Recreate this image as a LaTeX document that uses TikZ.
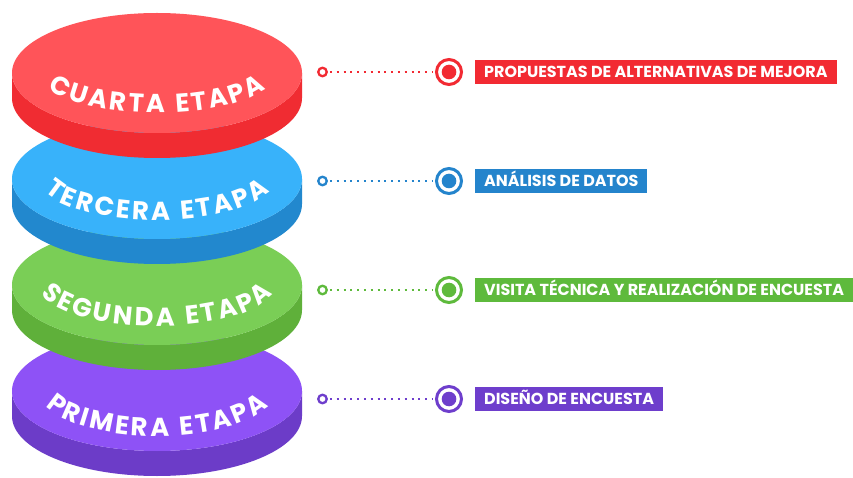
\documentclass[tikz,border=0pt]{standalone}
\usepackage{fontspec}
\setmainfont{Poppins}
\usetikzlibrary{decorations.text}
\definecolor{rface}{RGB}{255,84,89}
\definecolor{rside}{RGB}{240,44,50}
\definecolor{rlab}{RGB}{242,42,50}
\definecolor{bface}{RGB}{56,178,250}
\definecolor{bside}{RGB}{34,136,206}
\definecolor{blab}{RGB}{36,132,204}
\definecolor{gface}{RGB}{122,206,86}
\definecolor{gside}{RGB}{95,176,58}
\definecolor{glab}{RGB}{94,186,60}
\definecolor{pface}{RGB}{142,82,246}
\definecolor{pside}{RGB}{108,60,200}
\definecolor{plab}{RGB}{110,62,204}
\newcommand{\disktxt}{\fontsize{26}{26}\selectfont\bfseries\fontdimen2\font=6bp\relax}
\newcommand{\mydisk}[5]{% cy, face, side, text, textdrop
  \fill[#3] (12,-#1) -- (12,-#1-25) arc[start angle=180,end angle=360,x radius=145,y radius=60]
     -- (302,-#1) arc[start angle=0,end angle=-180,x radius=145,y radius=60] -- cycle;
  \fill[#2] (157,-#1) ellipse[x radius=145,y radius=60];
  \path[font=\disktxt,decorate,decoration={text effects along path,text={#4},text align=center,
        text effects/.cd,text along path,characters={text=white,font=\disktxt,inner sep=0pt},
        character widths={font=\disktxt,inner xsep=1.3bp}}]
     (157,-#1) ++(182:118 and #5) arc[start angle=182,end angle=358,x radius=118,y radius=#5];
}
\tikzset{
  smallring/.style={circle,draw=#1,line width=2.3bp,fill=white,minimum size=8.5bp,inner sep=0pt},
  bigring/.style={circle,draw=#1,line width=3bp,fill=white,minimum size=25bp,inner sep=0pt},
  dotline/.style={draw=#1,line width=2bp,dash pattern=on 2bp off 4.8bp,shorten <=2bp,shorten >=2bp},
  labelbox/.style={fill=#1,text=white,anchor=west,font=\fontsize{16}{16}\selectfont\bfseries,
     inner xsep=9bp,inner ysep=6.5bp,text height=11.2bp,text depth=0pt},
}
\begin{document}
\begin{tikzpicture}[x=1bp,y=1bp]
\useasboundingbox (0,0) rectangle (853,-478);
\fill[white] (0,0) rectangle (853,-478);
\mydisk{391}{pface}{pside}{PRIMERA ETAPA}{45}
\mydisk{285}{gface}{gside}{SEGUNDA ETAPA}{41}
\mydisk{179}{bface}{bside}{TERCERA ETAPA}{41}
\mydisk{73}{rface}{rside}{CUARTA ETAPA}{40}
% connectors
\foreach \n/\y/\c/\t in {r/72/rlab/{PROPUESTAS DE ALTERNATIVAS DE MEJORA},
                         b/181/blab/{ANÁLISIS DE DATOS},
                         g/290/glab/{VISITA TÉCNICA Y REALIZACIÓN DE ENCUESTA},
                         p/399/plab/{DISEÑO DE ENCUESTA}}{
  \node[smallring=\c] (s\n) at (322.5,-\y) {};
  \node[bigring=\c] (b\n) at (449,-\y) {};
  \fill[\c] (b\n.center) circle (7.3bp);
  \draw[dotline=\c] (s\n) -- (b\n);
  \node[labelbox=\c] (l\n) at (475,-\y) {\t};
}
\end{tikzpicture}
\end{document}
